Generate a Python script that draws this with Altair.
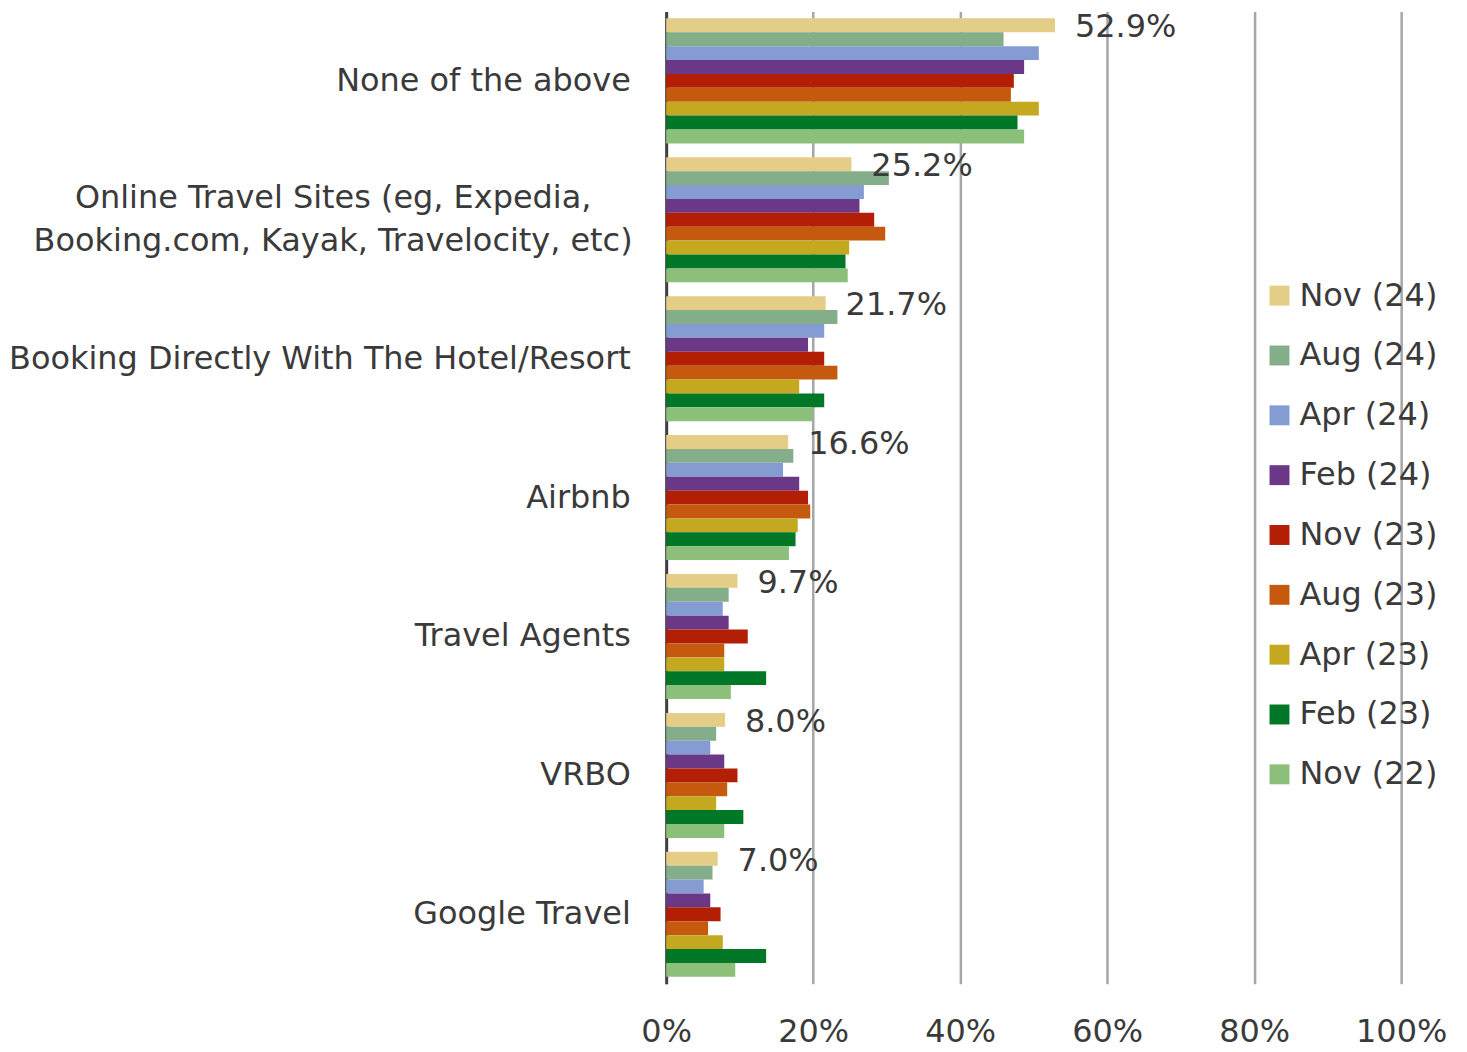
import altair as alt
import pandas as pd

categories = [
    "None of the above",
    "Online Travel Sites (eg, Expedia,|Booking.com, Kayak, Travelocity, etc)",
    "Booking Directly With The Hotel/Resort",
    "Airbnb",
    "Travel Agents",
    "VRBO",
    "Google Travel",
]
series = ["Nov (24)", "Aug (24)", "Apr (24)", "Feb (24)", "Nov (23)",
          "Aug (23)", "Apr (23)", "Feb (23)", "Nov (22)"]
colors = ["#E4CD87", "#84AE8A", "#859CD2", "#6A3887", "#B21F05",
          "#C55A0E", "#C4A820", "#007828", "#8BBF7A"]

nov24 = [52.9, 25.2, 21.7, 16.6, 9.7, 8.0, 7.0]
aug24 = [45.9, 30.3, 23.3, 17.3, 8.5, 6.8, 6.3]
apr24 = [50.7, 26.9, 21.5, 15.9, 7.7, 6.0, 5.1]
feb24 = [48.7, 26.3, 19.3, 18.1, 8.5, 7.9, 6.0]
nov23 = [47.3, 28.3, 21.5, 19.3, 11.1, 9.7, 7.4]
aug23 = [46.9, 29.8, 23.3, 19.6, 7.9, 8.3, 5.7]
apr23 = [50.7, 24.9, 18.1, 17.9, 7.9, 6.8, 7.7]
feb23 = [47.8, 24.4, 21.5, 17.6, 13.6, 10.5, 13.6]
nov22 = [48.7, 24.7, 20.0, 16.7, 8.8, 7.9, 9.4]

x_ticks = [0, 20, 40, 60, 80, 100]

values = [nov24, aug24, apr24, feb24, nov23, aug23, apr23, feb23, nov22]
rows = []
for s, vals in zip(series, values):
    for c, v in zip(categories, vals):
        rows.append({"category": c, "series": s, "value": v})
df = pd.DataFrame(rows)

FONT = "DejaVu Sans"
TXT = "#3a3a3a"
FS = 32

y_enc = alt.Y(
    "category:N", sort=categories,
    scale=alt.Scale(paddingInner=0.1, paddingOuter=0.05),
    axis=alt.Axis(title=None,
                  labelExpr="indexof(datum.label, '|') >= 0 ? '' : datum.label",
                  labelFontSize=FS, labelColor=TXT, labelFont=FONT,
                  labelPadding=36, ticks=False, domainColor="#404040",
                  domainWidth=3, labelLimit=700),
)
x_enc = alt.X(
    "value:Q", scale=alt.Scale(domain=[0, 100], nice=False),
    axis=alt.Axis(title=None, values=x_ticks, labelExpr="datum.value + '%'",
                  labelFontSize=FS, labelColor=TXT, labelFont=FONT,
                  labelPadding=33, ticks=False, domain=False, labelFlush=False,
                  gridColor="#A6A6A6", gridWidth=2.5),
)
yoff = alt.YOffset("series:N", sort=series,
                   scale=alt.Scale(domain=series, paddingInner=0, paddingOuter=0))

bars = alt.Chart(df).mark_bar().encode(
    y=y_enc, x=x_enc, yOffset=yoff,
    color=alt.Color("series:N", sort=series,
                    scale=alt.Scale(domain=series, range=colors),
                    legend=alt.Legend(title=None, orient="none", legendX=599,
                                      legendY=269, symbolType="square",
                                      symbolSize=400, symbolStrokeWidth=0,
                                      labelFontSize=FS, labelColor=TXT,
                                      labelFont=FONT, rowPadding=28,
                                      labelOffset=4)),
)

labels = alt.Chart(df).transform_filter(
    alt.datum.series == "Nov (24)"
).transform_calculate(
    lab="format(datum.value, '.1f') + '%'"
).mark_text(align="left", baseline="middle", dx=20, dy=2, fontSize=FS,
            font=FONT, color=TXT).encode(
    y=alt.Y("category:N", sort=categories),
    x=alt.X("value:Q"),
    yOffset=alt.YOffset("series:N", sort=series),
    text="lab:N",
)

multi = alt.Chart(pd.DataFrame({"category": [categories[1]]})).mark_text(
    align="center", baseline="middle", lineBreak="|", lineHeight=43,
    fontSize=FS, font=FONT, color=TXT, dy=-22,
).encode(
    y=alt.Y("category:N", sort=categories),
    x=alt.value(-334),
    text="category:N",
)

chart = alt.layer(bars, labels, multi).properties(
    width=737, height=975,
    autosize=alt.AutoSizeParams(type="none"),
    padding={"left": 660, "top": 2, "right": 58, "bottom": 66},
).configure_view(stroke=None)

chart.save("out.html", embed_options={"renderer": "svg", "actions": False})
